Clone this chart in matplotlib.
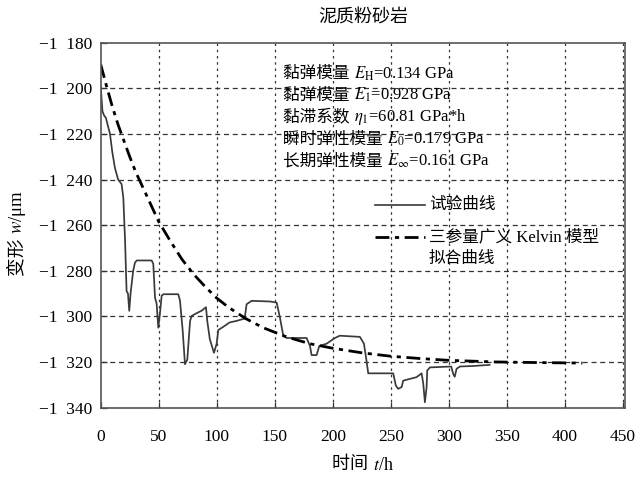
import matplotlib
matplotlib.use("Agg")
import matplotlib.pyplot as plt
from matplotlib.ticker import FuncFormatter
from matplotlib.offsetbox import TextArea, HPacker, AnnotationBbox

plt.rcParams['font.family'] = ['Liberation Serif', 'Noto Sans CJK SC', 'DejaVu Sans']
plt.rcParams['mathtext.fontset'] = 'stix'
plt.rcParams['axes.unicode_minus'] = True

# ---- data ----
test_t = [0, 0.8, 1.5, 3, 4.5, 6, 8, 10, 12.3, 15, 18, 19.5, 21, 22.3, 23.5, 24.6, 25.8,
          28, 29.5, 31, 43.9, 45.3, 46.8, 48.2, 49.6, 51, 52.5, 54, 66.8, 68.3, 70.6,
          72.6, 74.6, 77, 78.4, 82.7, 87, 90.7, 91.8, 94, 97.6, 99.9, 101.3, 105.6, 111,
          117, 124, 125.7, 130, 146, 151.6, 154.4, 157.3, 160.2, 177.4, 180.3, 181.7,
          186, 188.3, 194.6, 201.8, 206, 223.3, 226.8, 229, 230.5, 252, 254.3, 256.3,
          259.3, 260.6, 272, 276.5, 277.9, 279.3, 280.8, 281.3, 283.6, 302, 303.7, 305,
          306.6, 309.5, 320, 335]
test_w = [-1199, -1205, -1210, -1212, -1213, -1216, -1220, -1228, -1235, -1240, -1242,
          -1248, -1267, -1289, -1290, -1297.6, -1289.6, -1280, -1276.5, -1275.5, -1275.5,
          -1277, -1291.8, -1294.5, -1305, -1299, -1291, -1290.3, -1290.3, -1293, -1306,
          -1321, -1319, -1302, -1299.8, -1298.6, -1297.5, -1296, -1302, -1310, -1316,
          -1312, -1306, -1304.6, -1302.7, -1302, -1301, -1294.7, -1293.2, -1293.5, -1294,
          -1300.5, -1308.5, -1309.5, -1309.5, -1313, -1317, -1317, -1313, -1312, -1309.5,
          -1308.5, -1309, -1312, -1319.5, -1325, -1325, -1330.4, -1331.8, -1331, -1328.2,
          -1326.7, -1325, -1329.5, -1337.7, -1331, -1323.8, -1322.4, -1322, -1325.3,
          -1326.5, -1323, -1322, -1321.8, -1321.3]

fit_t = [0, 5, 10, 15, 20, 25, 30, 40, 50, 60, 70, 80, 90, 100, 110, 125, 140, 160,
         180, 200, 225, 250, 275, 300, 340, 380, 415]
fit_w = [-1189.5, -1199, -1208, -1216, -1223, -1230, -1236.5, -1247.5, -1258.5, -1267,
         -1275, -1281.5, -1287, -1292, -1296, -1301, -1305, -1309, -1312, -1314, -1316,
         -1317.5, -1318.5, -1319.3, -1320, -1320.3, -1320.5]

x_ticks = [0, 50, 100, 150, 200, 250, 300, 350, 400, 450]
y_ticks = [-1340, -1320, -1300, -1280, -1260, -1240, -1220, -1200, -1180]

title = "泥质粉砂岩"
xlabel_parts = ["时间 ", "$t$/h"]
ylabel_parts = ["变形 ", "$w$/μm"]
legend_labels = ["试验曲线", "三参量广义 Kelvin 模型", "拟合曲线"]
param_parts = [
    ("黏弹模量 ", "$E_{\\mathrm{H}}$=0.134 GPa"),
    ("黏弹模量 ", "$E_{1}$=0.928 GPa"),
    ("黏滞系数 ", "$\\eta_{1}$=60.81 GPa*h"),
    ("瞬时弹性模量 ", "$E_{0}$=0.179 GPa"),
    ("长期弹性模量 ", "$E_{\\infty}$=0.161 GPa"),
]

W, H = 644, 482
fig = plt.figure(figsize=(W / 100, H / 100), dpi=100)
L, R, T, B = 100.7, 625, 42.7, 408
ax = fig.add_axes([L / W, 1 - B / H, (R - L) / W, (B - T) / H])

EXP_COLOR = '#3a3a3a'
FIT_STYLE = (0, (5, 2, 1.5, 2))
ax.plot(test_t, test_w, color=EXP_COLOR, lw=1.25)
ax.plot(fit_t, fit_w, color='black', lw=2.0, linestyle=FIT_STYLE)

ax.set_xlim(0, 451.7)
ax.set_ylim(-1340.2, -1180.7)
ax.set_xticks(x_ticks)
ax.set_yticks(y_ticks)

def yfmt(v, pos):
    a = int(round(abs(v)))
    return "\u2212%d  %03d" % (a // 1000, a % 1000)

ax.yaxis.set_major_formatter(FuncFormatter(yfmt))

for y in y_ticks[1:-1]:
    ax.axhline(y, color='#333333', lw=0.9, linestyle=(0, (4, 3)), zorder=0)
for x in x_ticks[1:]:
    if x < 451.7:
        ax.axvline(x, color='#333333', lw=0.9, linestyle=(0, (2, 3)), zorder=0)

for s in ax.spines.values():
    s.set_color('#555555')
    s.set_linewidth(1.2)

ax.tick_params(direction='in', length=4, width=0.9, color='#333333', labelsize=12.5)
ax.tick_params(axis='x', pad=15)
ax.tick_params(axis='y', pad=6)

def px2fig(px, py):
    return (px / W, 1 - py / H)

def rich(parts, xy, fontsize, align=(0, 0.5), coords=None):
    kids = [TextArea(p, textprops=dict(fontsize=fontsize)) for p in parts]
    box = HPacker(children=kids, align="baseline", pad=0, sep=0)
    ab = AnnotationBbox(box, xy, xycoords=coords or fig.transFigure,
                        box_alignment=align, frameon=False, pad=0)
    fig.add_artist(ab)
    return ab

fig.text(*px2fig((L + R) / 2, 18), title, ha='center', va='center', fontsize=13)
rich(xlabel_parts, px2fig((L + R) / 2, 465), 13, align=(0.5, 0.5))

# y label: two rotated pieces stacked upward
y_a = fig.text(*px2fig(18, 276), ylabel_parts[0], ha='center', va='bottom',
               rotation=90, fontsize=13.5)
fig.canvas.draw()
ext = y_a.get_window_extent()
fig.text(18 / W, ext.y1 / H, ylabel_parts[1], ha='center', va='bottom',
         rotation=90, fontsize=13.5)

param_y = [73.3, 95.2, 117.2, 139.0, 160.5]
for parts, yy in zip(param_parts, param_y):
    rich(list(parts), px2fig(283, yy), 12)

# legend glyphs
def ax_xy(px, py):
    return ((px - L) / (R - L), (B - py) / (B - T))

x0, y0 = ax_xy(375, 205)
x1, _ = ax_xy(425, 205)
ax.plot([x0, x1], [y0, y0], transform=ax.transAxes, color=EXP_COLOR, lw=1.2)
_, y1 = ax_xy(375, 237)
ax.plot([x0, x1], [y1, y1], transform=ax.transAxes, color='black', lw=2.0,
        linestyle=FIT_STYLE)
for lab, yy in zip(legend_labels, [205, 237, 259]):
    rich([lab], px2fig(429, yy), 12)

fig.savefig("out.png", dpi=100)
